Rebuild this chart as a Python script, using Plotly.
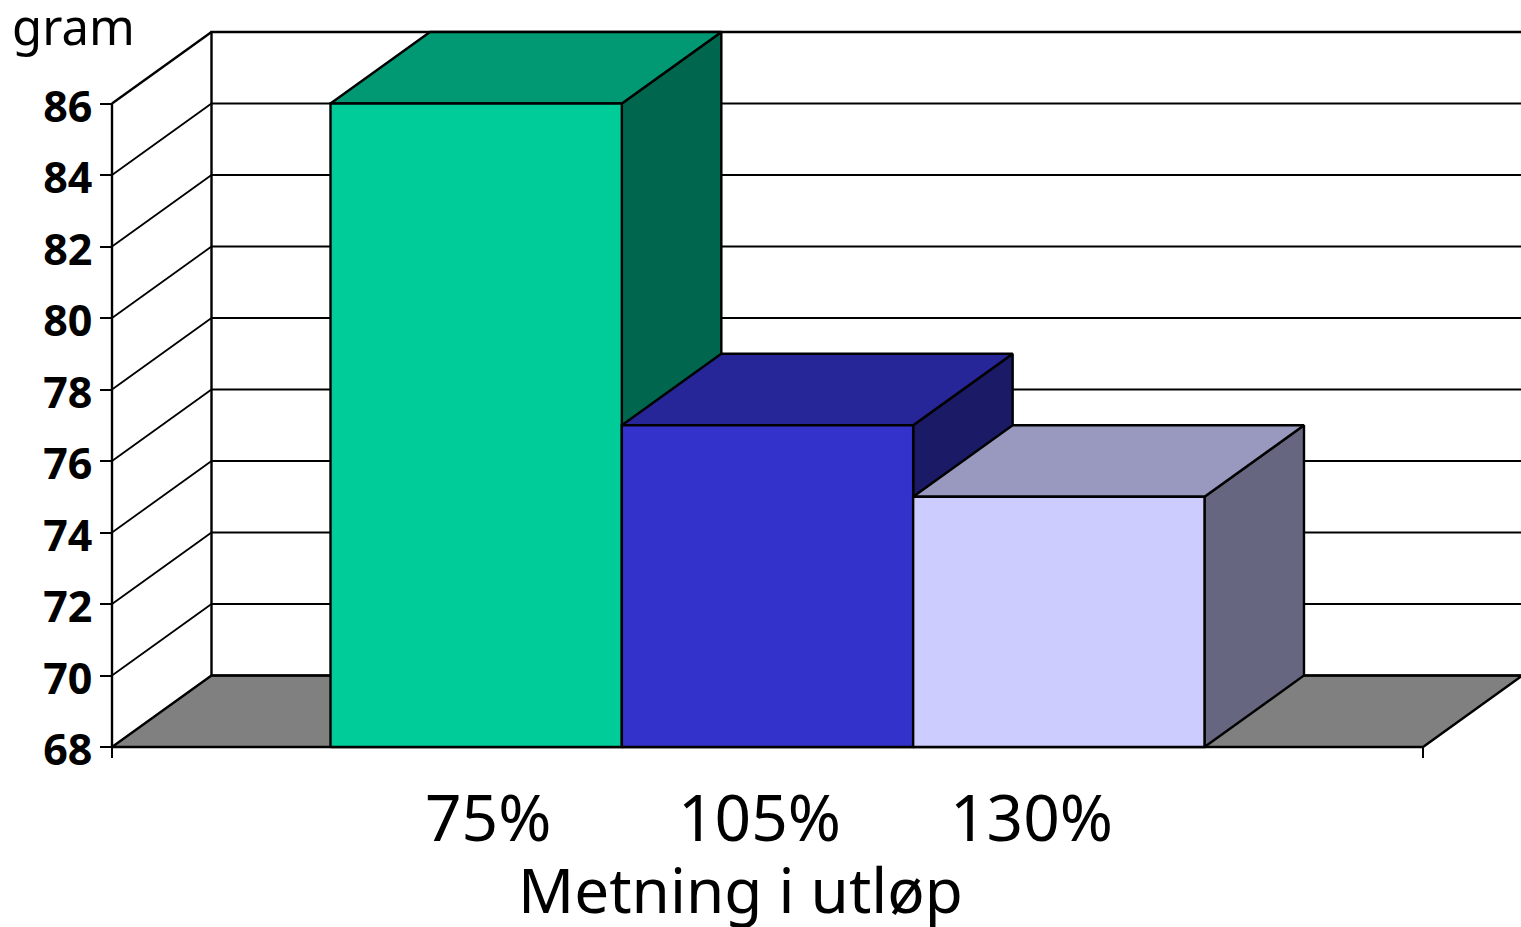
import plotly.graph_objects as go

# Chart data
categories = ["75%", "105%", "130%"]
values = [86, 77, 75]
y_ticks = [68, 70, 72, 74, 76, 78, 80, 82, 84, 86]
y_title = "gram"
x_title = "Metning i utløp"

# Face colours: front, top, side
front_colors = ["#00CC99", "#3333CC", "#CCCCFF"]
top_colors = ["#009973", "#262699", "#9999BF"]
side_colors = ["#00664D", "#1A1A66", "#666680"]
floor_color = "#808080"

# Page frame: the box's origin and extent, in page pixels
WIDTH, HEIGHT = 1521, 927
ORIGIN_X, ORIGIN_Y = 112, 747
SLOT_PX = 291.33
UNIT_PX = 35.75
PAD = 20  # spare room around the box so its edge strokes are not trimmed

LEFT, RIGHT, TOP, BOTTOM = ORIGIN_X - PAD, 0, 32 - PAD, HEIGHT - ORIGIN_Y - PAD
PLOT_W = WIDTH - LEFT - RIGHT
PLOT_H = HEIGHT - TOP - BOTTOM

# Oblique projection of the box, in axis units
X_MAX = (WIDTH - ORIGIN_X) / SLOT_PX
Y_MIN, Y_MAX = 68, 88
DEPTH_X = 99.5 / SLOT_PX
DEPTH_Y = 2
FIRST_BAR = 0.75
FLOOR_END = 4.5

fig = go.Figure()


def add_poly(xs, ys, fill=None, width=2.4):
    """Add one outlined polygon or polyline in axis coordinates."""
    fig.add_trace(go.Scatter(
        x=xs, y=ys, mode="lines", cliponaxis=False, hoverinfo="skip",
        showlegend=False,
        fill="toself" if fill else None,
        fillcolor=fill,
        line=dict(color="black", width=width),
    ))


# Floor
add_poly([0, FLOOR_END, FLOOR_END + DEPTH_X, DEPTH_X, 0],
         [Y_MIN, Y_MIN, Y_MIN + DEPTH_Y, Y_MIN + DEPTH_Y, Y_MIN],
         fill=floor_color)

# Back wall gridlines and the diagonals on the side wall
grid_x, grid_y = [], []
for v in y_ticks[1:]:
    grid_x += [DEPTH_X, X_MAX, None]
    grid_y += [v, v, None]
for v in y_ticks[1:-1]:
    grid_x += [0, DEPTH_X, None]
    grid_y += [v, v + DEPTH_Y, None]
add_poly(grid_x, grid_y, width=1.8)

# Wall edges: upright corners, top rail and top diagonal
add_poly([0, 0, None, DEPTH_X, DEPTH_X, X_MAX, None, 0, DEPTH_X],
         [Y_MIN, y_ticks[-1], None, Y_MIN + DEPTH_Y, Y_MAX, Y_MAX, None, y_ticks[-1], Y_MAX])

# Boxes, left to right so each one overlaps the side of the previous
for i, val in enumerate(values):
    x0 = FIRST_BAR + i
    x1 = x0 + 1
    add_poly([x1, x1 + DEPTH_X, x1 + DEPTH_X, x1, x1],
             [Y_MIN, Y_MIN + DEPTH_Y, val + DEPTH_Y, val, Y_MIN], fill=side_colors[i])
    add_poly([x0, x0 + DEPTH_X, x1 + DEPTH_X, x1, x0],
             [val, val + DEPTH_Y, val + DEPTH_Y, val, val], fill=top_colors[i])
    add_poly([x0, x1, x1, x0, x0],
             [Y_MIN, Y_MIN, val, val, Y_MIN], fill=front_colors[i])


def page_label(text, px, py, size, anchor="center"):
    """Text placed by page pixels, converted to plot-area fractions."""
    return dict(
        text=text, x=(px - LEFT) / PLOT_W, y=1 - (py - TOP) / PLOT_H,
        xref="paper", yref="paper", xanchor=anchor, yanchor="middle",
        showarrow=False, font=dict(family="Noto Sans", size=size, color="black"),
    )


# Category labels sit closer together than the boxes themselves
label_px = [488, 759, 1031]
annotations = [page_label(c, px, 817, 64) for c, px in zip(categories, label_px)]
annotations.append(page_label(x_title, 740, 889, 62))
annotations.append(page_label(y_title, 10, 26, 49, anchor="left"))

fig.update_layout(
    width=WIDTH, height=HEIGHT,
    margin=dict(l=LEFT, r=RIGHT, t=TOP, b=BOTTOM, pad=0, autoexpand=False),
    paper_bgcolor="white", plot_bgcolor="white",
    showlegend=False,
    annotations=annotations,
    xaxis=dict(range=[-PAD / SLOT_PX, X_MAX], tickvals=[0, FLOOR_END], ticktext=["", ""],
               ticks="outside", ticklen=10, tickwidth=2, tickcolor="black",
               showgrid=False, zeroline=False, showline=False, fixedrange=True,
               anchor="free", position=PAD / PLOT_H),
    yaxis=dict(range=[Y_MIN - PAD / UNIT_PX, Y_MAX + PAD / UNIT_PX], tickvals=y_ticks,
               ticks="outside", ticklen=12, tickwidth=1.8, tickcolor="black",
               showgrid=False, zeroline=False, showline=False, fixedrange=True,
               anchor="free", position=PAD / PLOT_W,
               ticklabelstandoff=-1, ticklabelshift=3,
               tickfont=dict(family="Noto Sans", size=43, color="black", weight="bold")),
)

fig.write_html("out.html", config={"displayModeBar": False})
